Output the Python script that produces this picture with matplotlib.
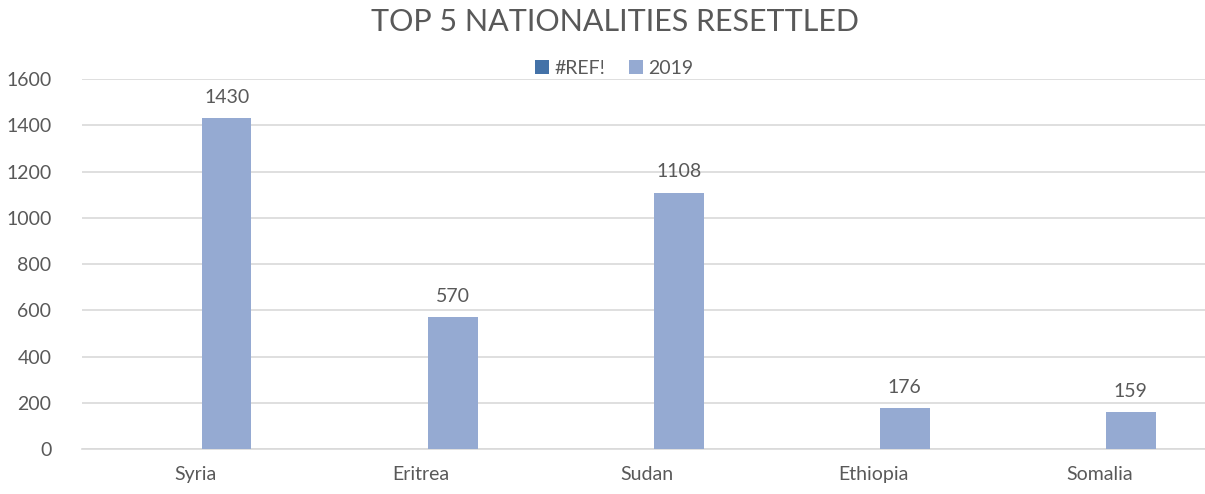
import matplotlib.pyplot as plt
import numpy as np

plt.rcParams["font.family"] = ["Lato", "DejaVu Sans"]

# data
countries = ["Syria", "Eritrea", "Sudan", "Ethiopia", "Somalia"]
ref_values = [0, 0, 0, 0, 0]  # "#REF!" series is empty in the source
values_2019 = [1430, 570, 1108, 176, 159]

text_gray = "#595959"
grid_gray = "#d9d9d9"

fig = plt.figure(figsize=(12.05, 4.94), dpi=100)
ax = fig.add_axes([0.068, 0.091, 0.938, 0.749])

x = np.arange(len(countries))
w = 0.22
off = 0.14
ax.bar(x - off, ref_values, width=w, color="#4472a8", linewidth=0, label="#REF!")
bars = ax.bar(x + off, values_2019, width=w, color="#95aad2", linewidth=0, label="2019", zorder=3)

for b, v in zip(bars, values_2019):
    ax.text(b.get_x() + b.get_width() / 2, v + 55, str(v), ha="center", va="bottom",
            fontsize=14, color=text_gray)

ax.set_xlim(-0.5, len(countries) - 0.5)
ax.set_ylim(0, 1600)
ax.set_yticks(np.arange(0, 1601, 200))
ax.set_xticks(x)
ax.set_xticklabels(countries)
ax.tick_params(axis="both", length=0, labelsize=14, labelcolor=text_gray)
ax.tick_params(axis="x", pad=12)
ax.tick_params(axis="y", pad=22)
ax.grid(axis="y", color=grid_gray, linewidth=1.2, zorder=0)
ax.set_axisbelow(True)
for s in ["top", "right", "left"]:
    ax.spines[s].set_visible(False)
ax.spines["bottom"].set_color(grid_gray)
ax.spines["bottom"].set_linewidth(1.2)

fig.text(0.51, 0.955, "TOP 5 NATIONALITIES RESETTLED", ha="center", va="center",
         fontsize=22, color=text_gray)
fig.legend(loc="center", bbox_to_anchor=(0.51, 0.862), ncol=2, frameon=False,
           fontsize=14, labelcolor=text_gray, handlelength=0.7, handleheight=0.7,
           handletextpad=0.3, columnspacing=1.2)

fig.savefig("out.png", dpi=100)
